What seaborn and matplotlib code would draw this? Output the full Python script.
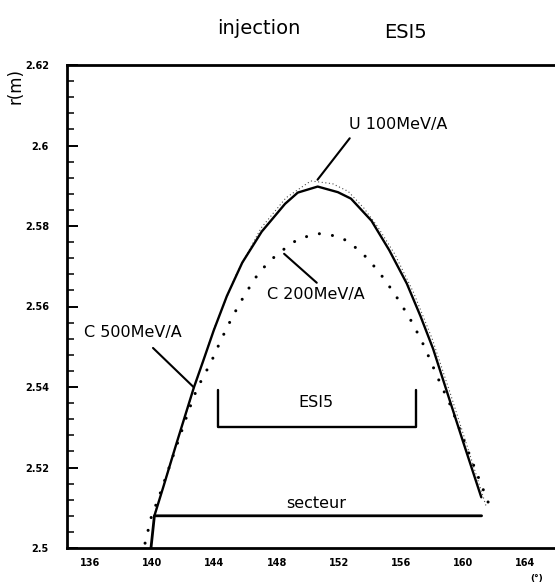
import matplotlib
matplotlib.use("Agg")
import matplotlib.pyplot as plt
import numpy as np
import pandas as pd
import seaborn as sns

# Radial position r (m) of the orbit along the ESI5 injection region versus azimuth (deg)
theta_c500 = [140.14, 140.74, 141.53, 142.68, 143.28, 143.95, 144.80, 145.79, 147.04,
              148.54, 149.36, 150.64, 151.94, 152.78, 154.10, 155.24, 156.37, 157.25,
              158.06, 158.82, 159.99, 161.16]
r_c500 = [2.5080, 2.5155, 2.5256, 2.5399, 2.5465, 2.5540, 2.5626, 2.5709, 2.5786,
          2.5855, 2.5883, 2.5898, 2.5884, 2.5868, 2.5813, 2.5740, 2.5657, 2.5576,
          2.5495, 2.5404, 2.5264, 2.5126]

theta_c200 = [139.54, 140.00, 140.31, 142.37, 142.87, 143.80, 144.41, 145.15, 145.96,
              146.89, 148.03, 149.43, 150.71, 151.87, 152.65, 153.89, 154.95, 155.88,
              156.75, 157.48, 158.50, 159.17, 160.40, 161.62]
r_c200 = [2.5012, 2.5087, 2.5113, 2.5344, 2.5395, 2.5463, 2.5516, 2.5574, 2.5630,
          2.5686, 2.5730, 2.5769, 2.5781, 2.5775, 2.5761, 2.5718, 2.5667, 2.5614,
          2.5558, 2.5502, 2.5411, 2.5355, 2.5232, 2.5112]

theta_u100 = [140.2, 141.6, 142.8, 144.0, 145.4, 147.0, 148.6, 150.2, 151.6, 152.6,
              153.6, 154.5, 155.6, 156.8, 158.0, 159.2, 160.4, 161.5]
r_u100 = [2.5090, 2.5265, 2.5410, 2.5548, 2.5680, 2.5795, 2.5870, 2.5912, 2.5905,
          2.5886, 2.5845, 2.5798, 2.5730, 2.5635, 2.5520, 2.5380, 2.5235, 2.5100]

# Sector boundary and ESI5 septum extent
theta_sector = [139.92, 140.14, 161.18]
r_sector = [2.500, 2.508, 2.508]
theta_esi5 = [144.2, 144.2, 156.95, 156.95]
r_esi5 = [2.5392, 2.5300, 2.5300, 2.5393]

x_ticks = [136, 140, 144, 148, 152, 156, 160, 164]
y_ticks = [2.50, 2.52, 2.54, 2.56, 2.58, 2.60, 2.62]
y_tick_labels = ["2.5", "2.52", "2.54", "2.56", "2.58", "2.6", "2.62"]

sns.set_style("white")
plt.rcParams["font.family"] = ["DejaVu Sans"]
plt.rcParams["text.color"] = "black"
plt.rcParams["xtick.color"] = "black"
plt.rcParams["ytick.color"] = "black"
plt.rcParams["axes.labelcolor"] = "black"

W, H = 555, 584
fig = plt.figure(figsize=(W / 100, H / 100), dpi=100)
fig.patch.set_facecolor("white")
ax = fig.add_axes([67 / W, 1 - 548 / H, 1 - 67 / W, 483 / H])
ax.set_facecolor("white")

df_c500 = pd.DataFrame({"theta": theta_c500, "r": r_c500})
df_c200 = pd.DataFrame({"theta": theta_c200, "r": r_c200})
df_u100 = pd.DataFrame({"theta": theta_u100, "r": r_u100})
df_sector = pd.DataFrame({"theta": theta_sector, "r": r_sector})
df_esi5 = pd.DataFrame({"theta": theta_esi5, "r": r_esi5})

sns.lineplot(data=df_u100, x="theta", y="r", sort=False, estimator=None, ax=ax,
             color="#555555", lw=1.0, linestyle=(0, (0.01, 2.6)),
             dash_capstyle="round")
sns.lineplot(data=df_c500, x="theta", y="r", sort=False, estimator=None, ax=ax,
             color="black", lw=1.7, solid_joinstyle="round")
sns.lineplot(data=df_c200, x="theta", y="r", sort=False, estimator=None, ax=ax,
             color="black", lw=2.2, linestyle=(0, (0.01, 4.3)),
             dash_capstyle="round")
sns.lineplot(data=df_sector, x="theta", y="r", sort=False, estimator=None, ax=ax,
             color="black", lw=2.0)
sns.lineplot(data=df_esi5, x="theta", y="r", sort=False, estimator=None, ax=ax,
             color="black", lw=1.7)

# Curve labels with leader lines
leader = dict(arrowstyle="-", lw=1.5, color="black", shrinkA=0, shrinkB=0)
ax.annotate("", xy=(150.63, 2.5915), xytext=(152.7, 2.6018), arrowprops=leader)
ax.annotate("", xy=(148.48, 2.5731), xytext=(150.58, 2.5659), arrowprops=leader)
ax.annotate("", xy=(142.68, 2.5399), xytext=(140.05, 2.5497), arrowprops=leader)

lab = dict(ha="center", va="center", fontsize=11.5, color="black")
ax.text(155.84, 2.6051, "U 100MeV/A", **lab)
ax.text(150.53, 2.5629, "C 200MeV/A", **lab)
ax.text(138.74, 2.5535, "C 500MeV/A", **lab)
ax.text(150.55, 2.5362, "ESI5", **lab)
ax.text(150.55, 2.5110, "secteur", **lab)

ax.set_xlim(134.52, 165.9)
ax.set_ylim(2.5, 2.62)
ax.set_xlabel("")
ax.set_ylabel("")

ax.set_xticks(x_ticks)
ax.set_xticklabels([str(t) for t in x_ticks], fontsize=7, fontweight="bold")
ax.set_yticks(y_ticks)
ax.set_yticklabels(y_tick_labels, fontsize=7, fontweight="bold")
ax.set_yticks(np.arange(2.5, 2.6201, 0.004), minor=True)
ax.tick_params(axis="x", length=0, pad=7)
ax.tick_params(axis="y", which="major", direction="in", length=8, width=1.4,
               pad=13, left=True)
ax.tick_params(axis="y", which="minor", direction="in", length=5, width=1.1,
               left=True)

for side in ("left", "bottom", "top"):
    ax.spines[side].set_visible(True)
    ax.spines[side].set_linewidth(2.0)
    ax.spines[side].set_color("black")
ax.spines["right"].set_visible(False)

fig.text(259 / W, 1 - 29 / H, "injection", ha="center", va="center", fontsize=14)
fig.text(405 / W, 1 - 33 / H, "ESI5", ha="center", va="center", fontsize=14)
fig.text(16 / W, 1 - 86 / H, "r(m)", ha="center", va="center", fontsize=12,
         rotation=90)
fig.text(537 / W, 1 - 578 / H, "(°)", ha="center", va="center", fontsize=6.5,
         fontweight="bold")

fig.savefig("out.png", dpi=100, facecolor="white")
